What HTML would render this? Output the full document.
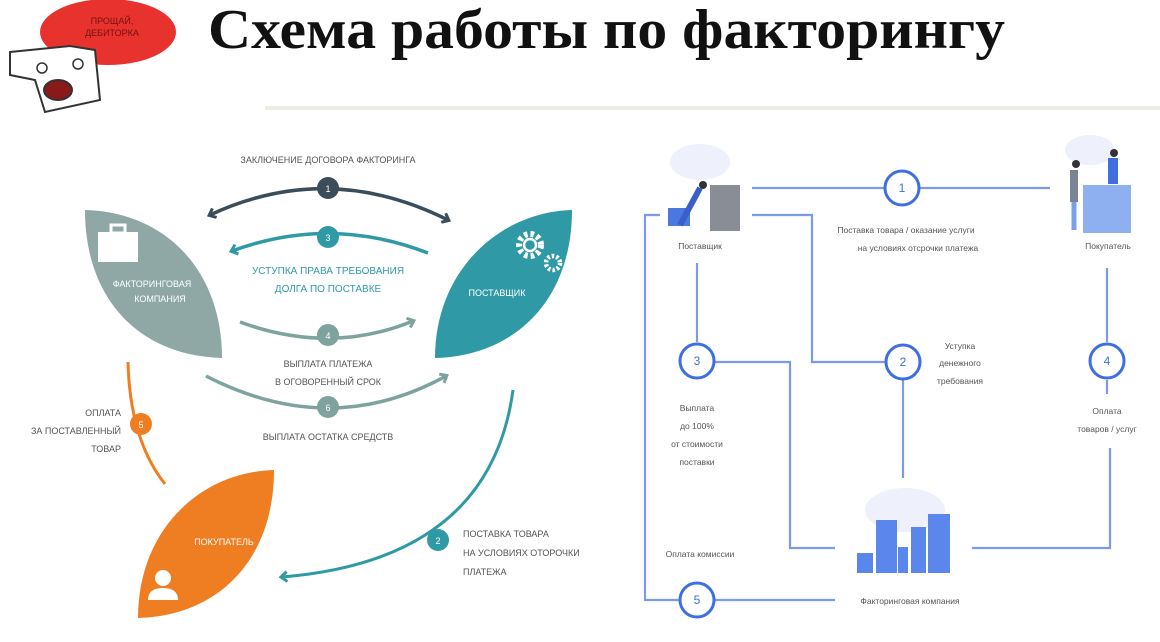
<!DOCTYPE html>
<html><head><meta charset="utf-8"><style>
html,body{margin:0;padding:0;background:#fff;}
svg{display:block}
text{font-family:"Liberation Sans","Noto Sans CJK SC",sans-serif;}
</style></head><body>
<svg width="1160" height="642" viewBox="0 0 1160 642" xmlns="http://www.w3.org/2000/svg">
<defs>
<marker id="ad" markerWidth="12" markerHeight="12" refX="6" refY="6" orient="auto-start-reverse" markerUnits="userSpaceOnUse"><path d="M1,1 L7,6 L1,11" fill="none" stroke="#3b4d5a" stroke-width="3"/></marker>
<marker id="at" markerWidth="12" markerHeight="12" refX="6" refY="6" orient="auto" markerUnits="userSpaceOnUse"><path d="M1,1 L7,6 L1,11" fill="none" stroke="#2f9aa6" stroke-width="3"/></marker>
<marker id="ag" markerWidth="12" markerHeight="12" refX="6" refY="6" orient="auto" markerUnits="userSpaceOnUse"><path d="M1,1 L7,6 L1,11" fill="none" stroke="#7ea39f" stroke-width="3"/></marker>
</defs>

<!-- header -->
<ellipse cx="108" cy="32" rx="68" ry="33" fill="#e8322e"/>
<text x="112" y="24" font-size="9" fill="#7a1010" text-anchor="middle">ПРОЩАЙ,</text>
<text x="112" y="36" font-size="9" fill="#7a1010" text-anchor="middle">ДЕБИТОРКА</text>
<path d="M10,52 L70,46 L95,50 L100,100 L45,112 L35,80 L10,75 Z" fill="#fff" stroke="#333" stroke-width="2"/>
<ellipse cx="58" cy="90" rx="14" ry="10" fill="#8a1a1a" stroke="#333" stroke-width="2"/>
<circle cx="42" cy="68" r="5" fill="#fff" stroke="#333" stroke-width="1.5"/>
<circle cx="78" cy="64" r="5" fill="#fff" stroke="#333" stroke-width="1.5"/>
<text x="208" y="48" font-weight="bold" font-size="56" textLength="797" lengthAdjust="spacingAndGlyphs" fill="#111" style="font-family:'Liberation Serif','Noto Serif CJK SC',serif">Схема работы по факторингу</text>
<rect x="265" y="106" width="895" height="4" fill="#ededE3"/>

<!-- left diagram leaves -->
<path d="M85,210 C165,212 222,270 222,358 C140,356 85,300 85,210 Z" fill="#8fa8a6"/>
<path d="M572,210 C500,212 435,270 435,358 C515,356 572,300 572,210 Z" fill="#2f9aa6"/>
<path d="M274,470 C200,472 138,530 138,618 C218,616 274,560 274,470 Z" fill="#ef7e22"/>

<!-- briefcase -->
<rect x="98" y="232" width="40" height="30" fill="#fff"/>
<rect x="111" y="225" width="14" height="8" fill="none" stroke="#fff" stroke-width="3"/>
<text x="152" y="287" font-size="9" fill="#fff" text-anchor="middle">ФАКТОРИНГОВАЯ</text>
<text x="160" y="302" font-size="9" fill="#fff" text-anchor="middle">КОМПАНИЯ</text>
<!-- gears -->
<circle cx="530" cy="245" r="11" fill="none" stroke="#fff" stroke-width="6" stroke-dasharray="3.5 3"/>
<circle cx="530" cy="245" r="6" fill="none" stroke="#fff" stroke-width="2.5"/>
<circle cx="553" cy="263" r="7" fill="none" stroke="#fff" stroke-width="4.5" stroke-dasharray="2.5 2"/>
<text x="497" y="296" font-size="9" fill="#fff" text-anchor="middle">ПОСТАВЩИК</text>
<text x="224" y="545" font-size="9" fill="#fff" text-anchor="middle">ПОКУПАТЕЛЬ</text>
<circle cx="163" cy="578" r="8" fill="#fff"/>
<path d="M148,600 Q148,588 163,588 Q178,588 178,600 Z" fill="#fff"/>

<!-- arcs -->
<text x="328" y="163" font-size="9" fill="#555" text-anchor="middle">ЗАКЛЮЧЕНИЕ ДОГОВОРА ФАКТОРИНГА</text>
<path d="M210,215 Q328,160 448,220" fill="none" stroke="#3b4d5a" stroke-width="3.5" marker-start="url(#ad)" marker-end="url(#ad)"/>
<circle cx="328" cy="188" r="11" fill="#3b4d5a"/><text x="328" y="192" font-size="9" fill="#fff" text-anchor="middle">1</text>

<path d="M428,253 Q330,215 232,251" fill="none" stroke="#2f9aa6" stroke-width="3.5" marker-end="url(#at)"/>
<circle cx="328" cy="237" r="11" fill="#2f9aa6"/><text x="328" y="241" font-size="9" fill="#fff" text-anchor="middle">3</text>
<text x="328" y="274" font-size="10" fill="#2f9aa6" text-anchor="middle">УСТУПКА ПРАВА ТРЕБОВАНИЯ</text>
<text x="328" y="292" font-size="10" fill="#2f9aa6" text-anchor="middle">ДОЛГА ПО ПОСТАВКЕ</text>

<path d="M240,322 Q330,355 413,321" fill="none" stroke="#7ea39f" stroke-width="3.5" marker-end="url(#ag)"/>
<circle cx="328" cy="335" r="11" fill="#7ea39f"/><text x="328" y="339" font-size="9" fill="#fff" text-anchor="middle">4</text>
<text x="328" y="367" font-size="9" fill="#555" text-anchor="middle">ВЫПЛАТА ПЛАТЕЖА</text>
<text x="328" y="385" font-size="9" fill="#555" text-anchor="middle">В ОГОВОРЕННЫЙ СРОК</text>

<path d="M206,376 Q330,440 446,376" fill="none" stroke="#7ea39f" stroke-width="3.5" marker-end="url(#ag)"/>
<circle cx="328" cy="407" r="11" fill="#7ea39f"/><text x="328" y="411" font-size="9" fill="#fff" text-anchor="middle">6</text>
<text x="328" y="440" font-size="9" fill="#555" text-anchor="middle">ВЫПЛАТА ОСТАТКА СРЕДСТВ</text>

<path d="M128,362 Q130,440 165,484" fill="none" stroke="#ef7e22" stroke-width="3"/>
<circle cx="141" cy="424" r="11" fill="#ef7e22"/><text x="141" y="428" font-size="9" fill="#fff" text-anchor="middle">5</text>
<text x="121" y="416" font-size="9" fill="#555" text-anchor="end">ОПЛАТА</text>
<text x="121" y="434" font-size="9" fill="#555" text-anchor="end">ЗА ПОСТАВЛЕННЫЙ</text>
<text x="121" y="452" font-size="9" fill="#555" text-anchor="end">ТОВАР</text>

<path d="M513,390 Q490,560 282,577" fill="none" stroke="#2f9aa6" stroke-width="3" marker-end="url(#at)"/>
<circle cx="438" cy="540" r="11" fill="#2f9aa6"/><text x="438" y="544" font-size="9" fill="#fff" text-anchor="middle">2</text>
<text x="463" y="537" font-size="9" fill="#555">ПОСТАВКА ТОВАРА</text>
<text x="463" y="556" font-size="9" fill="#555">НА УСЛОВИЯХ ОТОРОЧКИ</text>
<text x="463" y="575" font-size="9" fill="#555">ПЛАТЕЖА</text>

<!-- right diagram lines -->
<g fill="none" stroke="#7b9be8" stroke-width="2.2">
<path d="M752,188 H1050"/>
<path d="M752,215 H812 V362 H885"/>
<path d="M903,380 V478"/>
<path d="M697,263 V342"/>
<path d="M715,362 H790 V548 H835"/>
<path d="M1107,268 V342 M1107,380 V394"/>
<path d="M1110,448 V548 H972"/>
<path d="M660,215 H645 V600 H680 M715,600 H835"/>
</g>
<g fill="#fff" stroke="#3e6fe0" stroke-width="3">
<circle cx="902" cy="188" r="17"/><circle cx="903" cy="362" r="17"/>
<circle cx="697" cy="361" r="17"/><circle cx="1107" cy="361" r="17"/>
<circle cx="697" cy="600" r="17"/>
</g>
<g font-size="12" fill="#3e6fe0" text-anchor="middle">
<text x="902" y="192">1</text><text x="903" y="366">2</text><text x="697" y="365">3</text><text x="1107" y="365">4</text><text x="697" y="604">5</text>
</g>
<g font-size="8.5" fill="#555" text-anchor="middle">
<text x="700" y="249">Поставщик</text>
<text x="1108" y="249">Покупатель</text>
<text x="906" y="233">Поставка товара / оказание услуги</text>
<text x="918" y="251">на условиях отсрочки платежа</text>
<text x="960" y="349">Уступка</text><text x="960" y="366">денежного</text><text x="960" y="384">требования</text>
<text x="697" y="411">Выплата</text><text x="697" y="429">до 100%</text><text x="697" y="447">от стоимости</text><text x="697" y="465">поставки</text>
<text x="1107" y="414">Оплата</text><text x="1107" y="432">товаров / услуг</text>
<text x="700" y="557">Оплата комиссии</text>
<text x="910" y="604">Факторинговая компания</text>
</g>
<!-- supplier icon -->
<ellipse cx="700" cy="162" rx="30" ry="18" fill="#eef1fb"/>
<rect x="710" y="185" width="30" height="46" fill="#888d96"/>
<rect x="668" y="208" width="22" height="18" fill="#4a77e0"/>
<path d="M680,225 L700,188" stroke="#3a5fc8" stroke-width="6"/>
<circle cx="703" cy="185" r="4" fill="#333"/>
<!-- buyer icon -->
<ellipse cx="1090" cy="150" rx="25" ry="15" fill="#eef1fb"/>
<rect x="1083" y="185" width="48" height="48" fill="#8fb0f0"/>
<rect x="1070" y="170" width="8" height="32" fill="#7a8594"/>
<path d="M1074,202 V230" stroke="#7aa0ea" stroke-width="5"/>
<rect x="1108" y="158" width="10" height="26" fill="#3e6fe0"/>
<circle cx="1076" cy="164" r="4" fill="#333"/><circle cx="1114" cy="153" r="4" fill="#333"/>
<!-- building icon -->
<ellipse cx="905" cy="510" rx="40" ry="22" fill="#eef1fb"/>
<g fill="#5b86ec">
<rect x="857" y="553" width="16" height="20"/>
<rect x="876" y="520" width="21" height="53"/>
<rect x="898" y="547" width="10" height="26"/>
<rect x="911" y="527" width="15" height="46"/>
<rect x="928" y="514" width="22" height="59"/>
</g>
</svg>
</body></html>
